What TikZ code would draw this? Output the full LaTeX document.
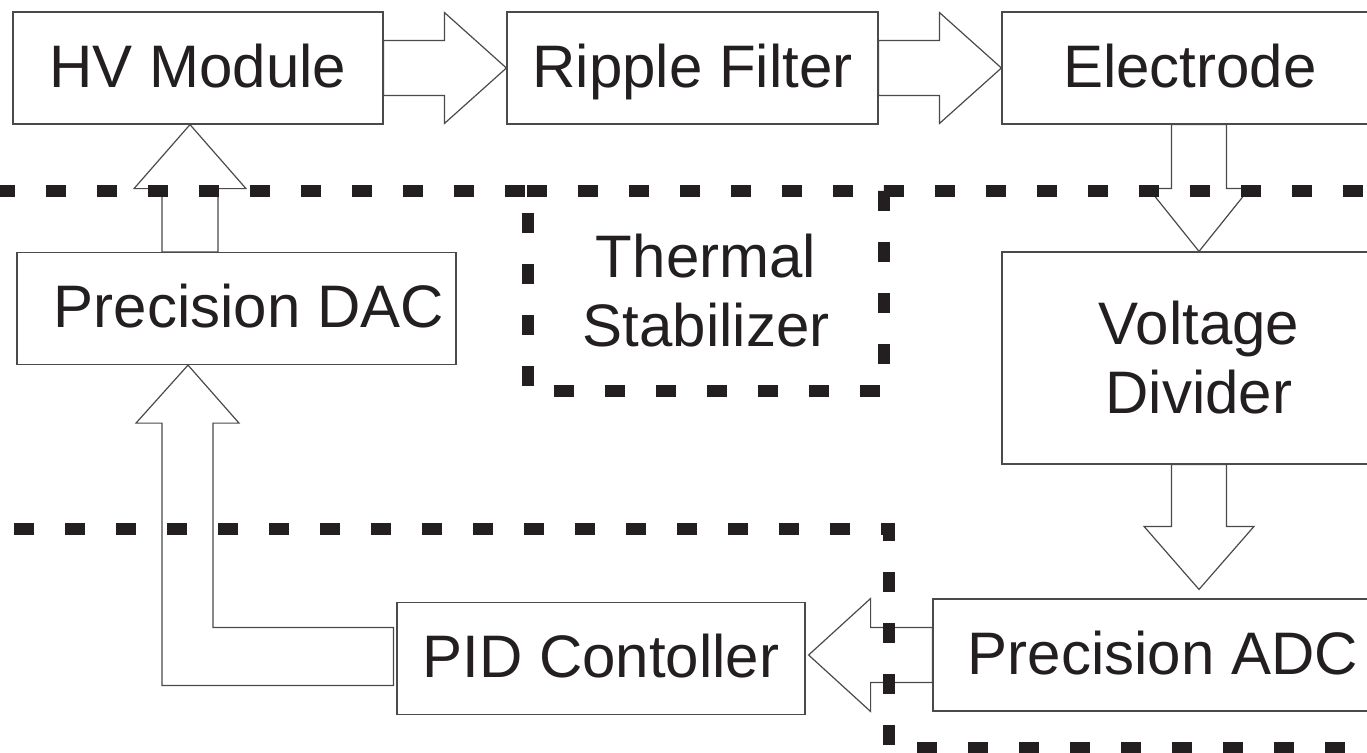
\documentclass[tikz,border=0pt]{standalone}
\usepackage{fontspec}
\setmainfont{Liberation Sans}
\usetikzlibrary{calc}
\definecolor{ink}{HTML}{231F20}
\definecolor{edge}{HTML}{4A4A4A}
% horizontal block arrow: start, tip, shaft half, head half, head length (negative = leftwards)
\newcommand\fatH[5]{\draw[fat] let \p1=(#1), \p2=(#2) in
  ({\x1},{\y2+#3}) -- ({\x2-(#5)},{\y2+#3}) -- ({\x2-(#5)},{\y2+#4}) -- ({\x2},{\y2}) --
  ({\x2-(#5)},{\y2-#4}) -- ({\x2-(#5)},{\y2-#3}) -- ({\x1},{\y2-#3}) -- cycle;}
% vertical block arrow: start, tip, shaft half, head half, head length (positive = downwards)
\newcommand\fatV[5]{\draw[fat] let \p1=(#1), \p2=(#2) in
  ({\x2+#3},{\y1}) -- ({\x2+#3},{\y2+(#5)}) -- ({\x2+#4},{\y2+(#5)}) -- ({\x2},{\y2}) --
  ({\x2-#4},{\y2+(#5)}) -- ({\x2-#3},{\y2+(#5)}) -- ({\x2-#3},{\y1}) -- cycle;}
\begin{document}
\begin{tikzpicture}[x=1pt,y=-1pt,
  big/.style={font=\fontsize{60pt}{69pt}\selectfont},
  box/.style={draw=edge, line width=1.2pt, fill=white, inner sep=0pt, text=ink, big,
    text height=43pt, text depth=5pt, minimum height=112pt},
  bigbox/.style={draw=edge, line width=1.2pt, fill=white, inner sep=0pt, text=ink, big, align=center},
  label/.style={inner sep=0pt, text=ink, big, align=center},
  fat/.style={draw=edge, line width=1.2pt, fill=white, line join=miter},
  dashline/.style={draw=ink, line width=11.5pt, dash pattern=on 20pt off 31pt}]
\useasboundingbox (0,0) rectangle (1367,752);

% blocks
\node[box, minimum width=370pt] (hv) at (198,68) {HV Module};
\node[box, minimum width=371pt] (rf) at (692.5,68) {Ripple Filter};
\node[box, minimum width=394pt] (el) at (1199,68) {Electrode\hspace*{18pt}};
\node[box, minimum width=439pt] (dac) at (236.5,308.5) {\hspace*{25pt}Precision DAC};
\node[bigbox, minimum width=394pt, minimum height=212pt] (vd) at (1199,358) {Voltage\\Divider};
\node[box, minimum width=460pt] (adc) at (1163,655) {Precision ADC};
\node[box, minimum width=408pt] (pid) at (601,658.5) {PID Contoller};
\node[label] (ts) at (706,290.5) {Thermal\\Stabilizer};

% block arrows
\fatH{hv.east}{rf.west}{27.5pt}{55.5pt}{62pt}
\fatH{rf.east}{el.west}{27.5pt}{55.5pt}{62pt}
\fatV{el.south}{vd.north}{27.5pt}{50.5pt}{63pt}
\coordinate (t2) at ($(vd.south |- adc.north)+(0,-9)$);
\fatV{vd.south}{t2}{27.5pt}{55pt}{63pt}
\coordinate (t3) at ([xshift=3pt]pid.east |- adc.west);
\fatH{adc.west}{t3}{27.5pt}{56.5pt}{-62pt}
\coordinate (t1) at ([xshift=-8pt]hv.south);
\coordinate (s1) at (t1 |- dac.north);
\fatV{s1}{t1}{28pt}{56pt}{-64pt}
\coordinate (t4) at ([xshift=-48.5pt]dac.south);
\draw[fat] let \p1=(pid.west), \p2=(t4) in
  ({\x1-3pt},{\y1+31pt}) -- ({\x2+25pt},{\y1+31pt}) -- ({\x2+25pt},{\y2-58pt}) -- ({\x2+51pt},{\y2-58pt}) --
  ({\x2},{\y2}) -- ({\x2-52pt},{\y2-58pt}) -- ({\x2-26pt},{\y2-58pt}) -- ({\x2-26pt},{\y1-27pt}) --
  ({\x1-3pt},{\y1-27pt}) -- cycle;

% dashed region borders
\draw[dashline, dash phase=5pt] (0,191) -- (527,191);
\draw[dashline] (527,191) -- (884,191) -- (884,391) -- (528,391) -- (528,191);
\draw[dashline] (884,191) -- (1367,191);
\draw[dashline] (14,529) -- (889,529) -- (889,748) -- (1367,748);
\end{tikzpicture}
\end{document}
